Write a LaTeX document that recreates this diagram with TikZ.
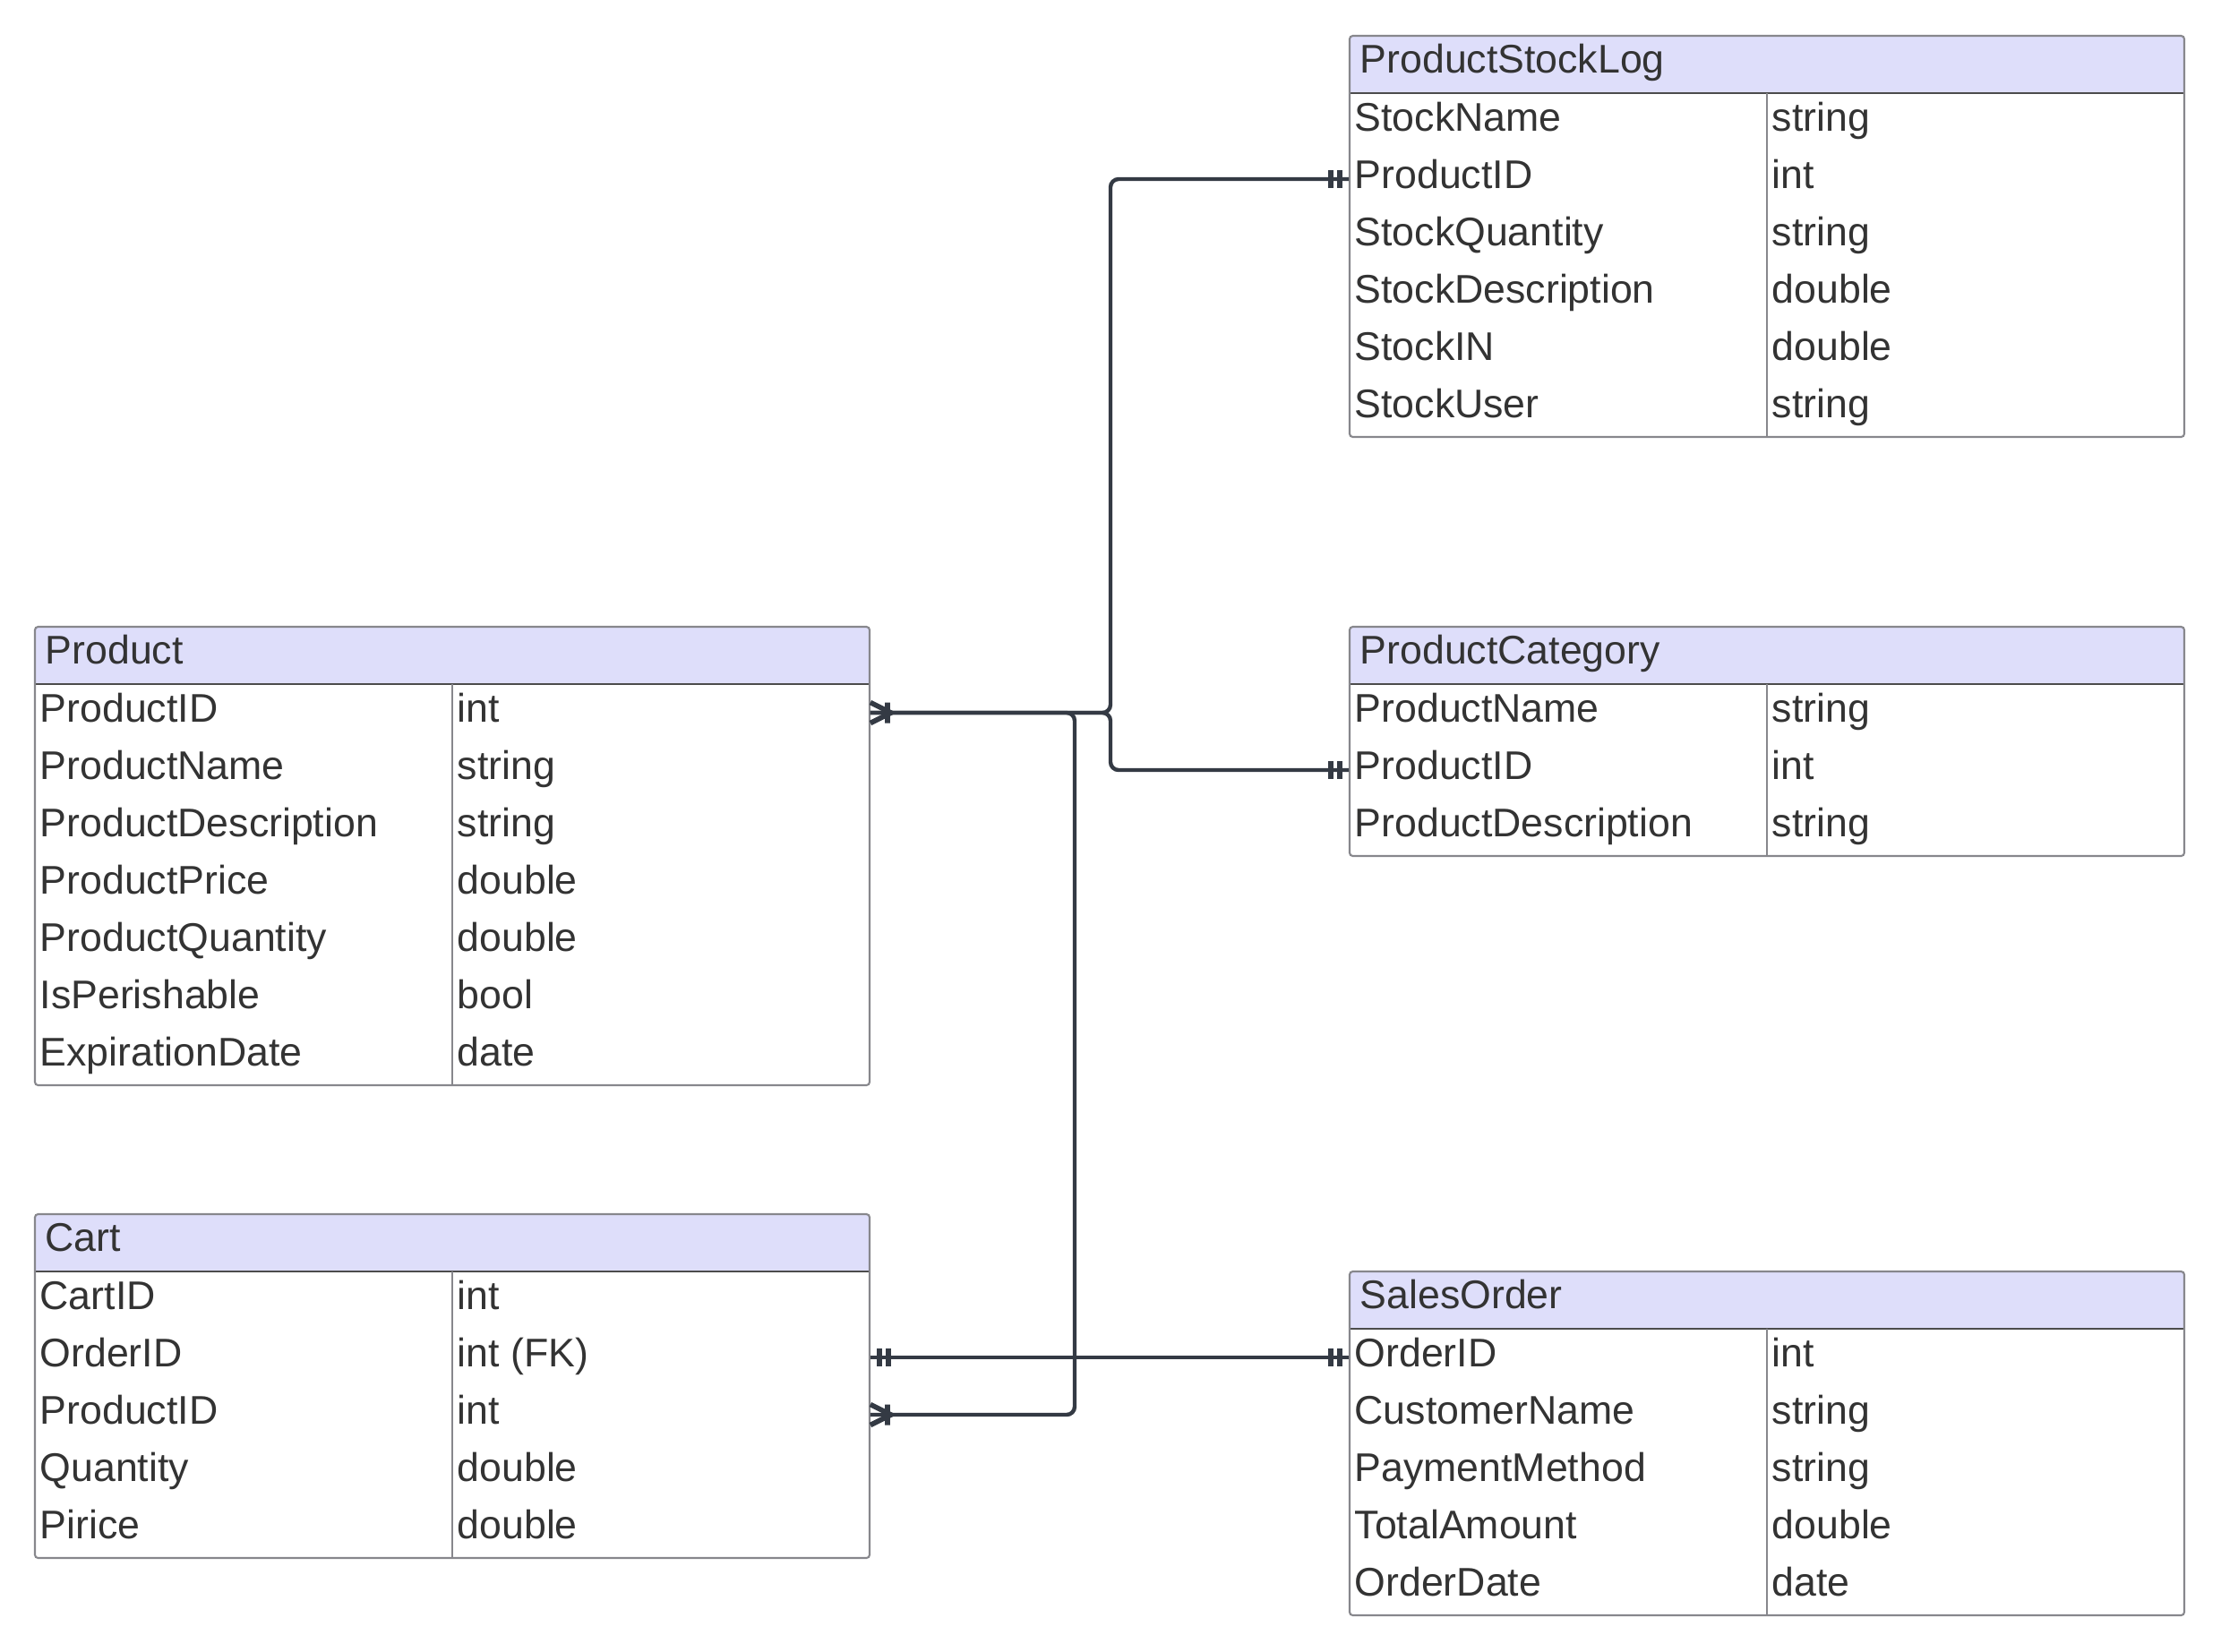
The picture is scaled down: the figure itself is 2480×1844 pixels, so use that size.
\documentclass[tikz,border=0pt]{standalone}
\usepackage{fontspec}
\setmainfont{Liberation Sans}
\usepackage{tikz}
\usepackage{xcolor}
\definecolor{hdrfill}{RGB}{222,222,250}
\definecolor{txtgray}{RGB}{51,51,51}
\definecolor{linkgray}{RGB}{52,58,68}
\definecolor{boxgray}{RGB}{135,135,140}

% #1 id, #2 left, #3 top, #4 rows, #5 title, #6 field/type list
\newcommand{\erentity}[6]{%
  \fill[hdrfill] (#2,#3) rectangle ++(932,64);
  \draw[black!70, line width=0.5pt] (#2,#3+64) -- ++(932,0);
  \draw[boxgray, line width=0.5pt] (#2+466,#3+64) -- ++(0,64*#4);
  \draw[boxgray, line width=0.6pt, rounded corners=1pt] (#2,#3) rectangle ++(932,64+64*#4);
  \node[ertitle] (#1-0) at (#2+11,#3+41) {#5};
  \foreach \fname/\ftype [count=\i] in {#6} {
    \node[errow] (#1-\i) at (#2+466,#3+32+64*\i) {};
    \node[erfield] (#1-\i-n) at (#2+5,#3+42+64*\i) {\fname};
    \node[erfield] (#1-\i-t) at (#2+471,#3+42+64*\i) {\ftype};
  }%
}

\begin{document}
\begin{tikzpicture}[
  x=0.01cm,y=-0.01cm,
  every node/.style={font=\fontsize{12.7}{15}\selectfont, text=txtgray},
  errow/.style={minimum width=9.32cm, minimum height=0.64cm, inner sep=0pt},
  erfield/.style={anchor=base west, inner sep=0pt},
  ertitle/.style={anchor=base west, inner sep=0pt},
  conn/.style={draw=linkgray, line width=1.25pt, rounded corners=0.09cm},
  tipline/.style={draw=linkgray, line width=1.6pt},
  pics/onlyone/.style={code={
    \draw[tipline] (-10,-10) -- (-10,10) (-20,-10) -- (-20,10);
  }},
  pics/oneormany/.style={code={
    \draw[tipline] (0,-11.5) -- (-23,0) -- (0,11.5) (-19,-11.5) -- (-19,11.5);
  }}
]
\useasboundingbox (0,0) rectangle (2480,1844);

\erentity{psl}{1507}{40}{6}{ProductStockLog}{StockName/string, ProductID/int,
  StockQuantity/string, StockDescription/double, StockIN/double, StockUser/string}
\erentity{prod}{39}{700}{7}{Product}{ProductID/int, ProductName/string,
  ProductDescription/string, ProductPrice/double, ProductQuantity/double,
  IsPerishable/bool, ExpirationDate/date}
\erentity{pcat}{1507}{700}{3}{ProductCategory}{ProductName/string, ProductID/int,
  ProductDescription/string}
\erentity{cart}{39}{1356}{5}{Cart}{CartID/int, OrderID/int (FK), ProductID/int,
  Quantity/double, Pirice/double}
\erentity{so}{1507}{1420}{5}{SalesOrder}{OrderID/int, CustomerName/string,
  PaymentMethod/string, TotalAmount/double, OrderDate/date}

% links
\coordinate (splitup) at (1240,796);
\coordinate (splitcart) at (1200,796);
\draw[conn] (prod-1.east) -- (splitup) |- (psl-2.west);
\draw[conn] (prod-1.east) -- (splitup) |- (pcat-2.west);
\draw[conn] (prod-1.east) -- (splitcart) |- (cart-3.east);
\draw[conn] (cart-2.east) -- (so-1.west);

% cardinality ends
\pic at (psl-2.west) {onlyone};
\pic at (pcat-2.west) {onlyone};
\pic at (so-1.west) {onlyone};
\pic[xscale=-1] at (cart-2.east) {onlyone};
\pic[xscale=-1] at (cart-3.east) {oneormany};
\pic[xscale=-1] at (prod-1.east) {oneormany};
\end{tikzpicture}
\end{document}
